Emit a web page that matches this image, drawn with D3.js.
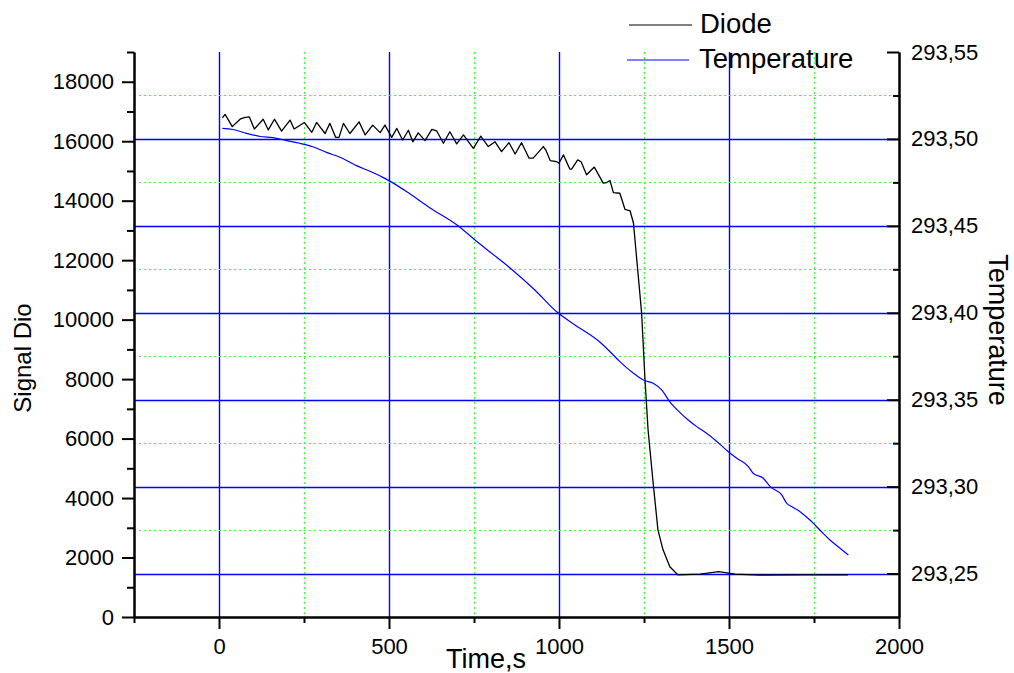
<!DOCTYPE html>
<html>
<head>
<meta charset="utf-8">
<script src="https://cdn.jsdelivr.net/npm/d3@7/dist/d3.min.js"></script>
<style>
  html, body { margin: 0; padding: 0; background: #fff; }
  svg { display: block; font-family: "Liberation Sans", Arial, Helvetica, sans-serif; }
</style>
</head>
<body>
<svg id="chart" width="1014" height="673"></svg>
<script>
// Diode signal (left axis) versus time, s
const diodeTime = [10, 18, 39, 62, 74, 89, 104, 130, 145, 163, 184, 209, 221, 251, 273, 287, 312, 326, 343, 353,
  366, 385, 412, 430, 452, 474, 488, 508, 523, 540, 557, 570, 586, 606, 626, 640, 660, 679, 699, 719,
  748, 770, 792, 812, 831, 853, 871, 890, 912, 924, 954, 961, 974, 993, 1000, 1013, 1032, 1037, 1055, 1065,
  1081, 1104, 1130, 1140, 1150, 1160, 1179, 1194, 1209, 1219, 1243, 1253, 1262, 1276, 1291, 1306, 1326, 1350,
  1415, 1470, 1518, 1591, 1709, 1850];
const diodeSignal = [16790, 16900, 16490, 16740, 16790, 16820, 16410, 16740, 16380, 16740, 16340, 16710, 16410, 16630, 16300, 16630, 16260, 16600, 16130, 16130,
  16600, 16260, 16650, 16210, 16540, 16290, 16540, 16130, 16430, 16040, 16370, 15980, 16280, 16020, 16400, 16350, 15930, 16320, 15910, 16210,
  15760, 16170, 15820, 15980, 15650, 15950, 15570, 15950, 15430, 15430, 15820, 15710, 15350, 15310, 15260, 15540, 15060, 15060, 15370, 15310,
  14870, 15130, 14590, 14610, 14680, 14270, 14250, 13710, 13660, 13250, 10220, 7970, 6290, 4610, 2930, 2260, 1690, 1415,
  1445, 1525, 1445, 1405, 1415, 1415];

// Temperature (right axis) versus time, s
const tempTime = [10, 41, 81, 121, 159, 200, 238, 276, 318, 356, 385, 406, 444, 482, 509, 562, 621, 700, 753, 797,
  856, 929, 994, 1047, 1121, 1150, 1179, 1219, 1248, 1277, 1302, 1326, 1356, 1380, 1405, 1434, 1459, 1498, 1523, 1557,
  1571, 1601, 1621, 1655, 1670, 1684, 1709, 1738, 1753, 1777, 1797, 1821, 1851];
const temperature = [293.5061, 293.5054, 293.5032, 293.5014, 293.5007, 293.4990, 293.4975, 293.4955, 293.4921, 293.4895,
  293.4866, 293.4845, 293.4814, 293.4779, 293.4750, 293.4683, 293.4603, 293.4505, 293.4419, 293.4350,
  293.4258, 293.4131, 293.4004, 293.3930, 293.3830, 293.3776, 293.3719, 293.3652, 293.3613, 293.3594,
  293.3556, 293.3488, 293.3426, 293.3383, 293.3345, 293.3307, 293.3268, 293.3201, 293.3163, 293.3115,
  293.3077, 293.3048, 293.3000, 293.2952, 293.2904, 293.2885, 293.2856, 293.2808, 293.2779, 293.2731,
  293.2693, 293.2654, 293.2607];

// Tick values
const xMajorTicks = [0, 500, 1000, 1500, 2000];
const xMinorTicks = [-250, 250, 750, 1250, 1750];
const yLeftMajorTicks = [0, 2000, 4000, 6000, 8000, 10000, 12000, 14000, 16000, 18000];
const yLeftMinorTicks = [1000, 3000, 5000, 7000, 9000, 11000, 13000, 15000, 17000, 19000];
const yRightMajorTicks = [293.25, 293.30, 293.35, 293.40, 293.45, 293.50, 293.55];
const yRightMinorTicks = [293.275, 293.325, 293.375, 293.425, 293.475, 293.525];

const seriesNames = ["Diode", "Temperature"];
const seriesColors = ["#000000", "#0000ff"];

const svg = d3.select("#chart");
const W = 1014, H = 673;
const m = { top: 52, right: 115, bottom: 56, left: 134 };
const x0 = m.left, x1 = W - m.right, yTop = m.top, yBot = H - m.bottom;

const x = d3.scaleLinear().domain([-250, 2000]).range([x0, x1]);
const yL = d3.scaleLinear().domain([0, 19000]).range([yBot, yTop]);
const yR = d3.scaleLinear().domain([293.225, 293.55]).range([yBot, yTop]);

const crisp = v => Math.round(v) + 0.5;
const gridGreen = "#33ff33";
const gridBlue = "#0000ff";

// Grid: vertical lines from the time axis
const grid = svg.append("g");
grid.selectAll(".vminor").data(xMinorTicks.filter(d => d > -250)).join("line")
  .attr("class", "vminor")
  .attr("x1", d => crisp(x(d))).attr("x2", d => crisp(x(d)))
  .attr("y1", yTop).attr("y2", yBot)
  .attr("stroke", gridGreen).attr("stroke-width", 1).attr("stroke-dasharray", "2,3");
grid.selectAll(".vmajor").data(xMajorTicks.filter(d => d > -250 && d < 2000)).join("line")
  .attr("class", "vmajor")
  .attr("x1", d => crisp(x(d))).attr("x2", d => crisp(x(d)))
  .attr("y1", yTop).attr("y2", yBot)
  .attr("stroke", gridBlue).attr("stroke-width", 1.4);

// Grid: horizontal lines from the temperature axis
grid.selectAll(".hminor").data(yRightMinorTicks).join("line")
  .attr("class", "hminor")
  .attr("x1", x0).attr("x2", x1)
  .attr("y1", d => crisp(yR(d))).attr("y2", d => crisp(yR(d)))
  .attr("stroke", gridGreen).attr("stroke-width", 1).attr("stroke-dasharray", "2,3");
grid.selectAll(".hmajor").data(yRightMajorTicks.filter(d => d < 293.55)).join("line")
  .attr("class", "hmajor")
  .attr("x1", x0).attr("x2", x1)
  .attr("y1", d => crisp(yR(d))).attr("y2", d => crisp(yR(d)))
  .attr("stroke", gridBlue).attr("stroke-width", 1.6);

// Series
const diodeLine = d3.line()
  .x((d, i) => x(diodeTime[i]))
  .y(d => yL(d))
  .curve(d3.curveLinear);
svg.append("path").datum(diodeSignal)
  .attr("d", diodeLine)
  .attr("fill", "none").attr("stroke", seriesColors[0]).attr("stroke-width", 1.3)
  .attr("stroke-linejoin", "round");

const tempLine = d3.line()
  .x((d, i) => x(tempTime[i]))
  .y(d => yR(d))
  .curve(d3.curveMonotoneX);
svg.append("path").datum(temperature)
  .attr("d", tempLine)
  .attr("fill", "none").attr("stroke", seriesColors[1]).attr("stroke-width", 1.2);

// Axes
const tickFont = "22px";
function styleAxis(g) {
  g.selectAll(".domain").attr("stroke", "#000").attr("stroke-width", 2);
  g.selectAll(".tick line").attr("stroke", "#000").attr("stroke-width", 2);
  g.selectAll(".tick text").attr("fill", "#000").style("font-size", tickFont)
    .style("font-family", '"Liberation Sans", Arial, sans-serif');
}

// Left axis
svg.append("g").attr("transform", `translate(${x0},0)`)
  .call(d3.axisLeft(yL).tickValues(yLeftMinorTicks).tickSize(7).tickSizeOuter(0).tickFormat(""))
  .call(styleAxis);
svg.append("g").attr("transform", `translate(${x0},0)`)
  .call(d3.axisLeft(yL).tickValues(yLeftMajorTicks).tickSize(12).tickSizeOuter(0).tickPadding(8).tickFormat(d3.format("d")))
  .call(styleAxis);

// Bottom axis
svg.append("g").attr("transform", `translate(0,${yBot})`)
  .call(d3.axisBottom(x).tickValues(xMinorTicks).tickSize(6).tickSizeOuter(0).tickFormat(""))
  .call(styleAxis);
svg.append("g").attr("transform", `translate(0,${yBot})`)
  .call(d3.axisBottom(x).tickValues(xMajorTicks).tickSize(12).tickSizeOuter(0).tickPadding(9).tickFormat(d3.format("d")))
  .call(styleAxis);

// Right axis (ticks point into the plot, comma decimal labels)
const commaFmt = d => d3.format(".2f")(d).replace(".", ",");
svg.append("g").attr("transform", `translate(${x1},0)`)
  .call(d3.axisRight(yR).tickValues(yRightMinorTicks).tickSizeInner(-6).tickSizeOuter(0).tickFormat(""))
  .call(styleAxis);
svg.append("g").attr("transform", `translate(${x1},0)`)
  .call(d3.axisRight(yR).tickValues(yRightMajorTicks).tickSizeInner(-12).tickSizeOuter(0).tickPadding(12).tickFormat(commaFmt))
  .call(styleAxis);

// Axis titles
svg.append("text")
  .attr("transform", "translate(31,358) rotate(-90)")
  .attr("text-anchor", "middle").style("font-size", "24px")
  .text("Signal Dio");
svg.append("text")
  .attr("transform", "translate(989,330) rotate(90)")
  .attr("text-anchor", "middle").style("font-size", "27px")
  .text("Temperature");
svg.append("text")
  .attr("x", 486).attr("y", 668)
  .attr("text-anchor", "middle").style("font-size", "27px")
  .text("Time,s");

// Legend
const legendRows = [
  { name: seriesNames[0], color: seriesColors[0], lx1: 629, lx2: 692, ly: 25, tx: 700, ty: 33 },
  { name: seriesNames[1], color: seriesColors[1], lx1: 627, lx2: 689, ly: 60, tx: 699, ty: 68 }
];
const legend = svg.append("g");
legend.selectAll("line").data(legendRows).join("line")
  .attr("x1", d => d.lx1).attr("x2", d => d.lx2)
  .attr("y1", d => d.ly).attr("y2", d => d.ly)
  .attr("stroke", d => d.color).attr("stroke-width", 1);
legend.selectAll("text").data(legendRows).join("text")
  .attr("x", d => d.tx).attr("y", d => d.ty)
  .style("font-size", "27.5px")
  .text(d => d.name);
</script>
</body>
</html>
